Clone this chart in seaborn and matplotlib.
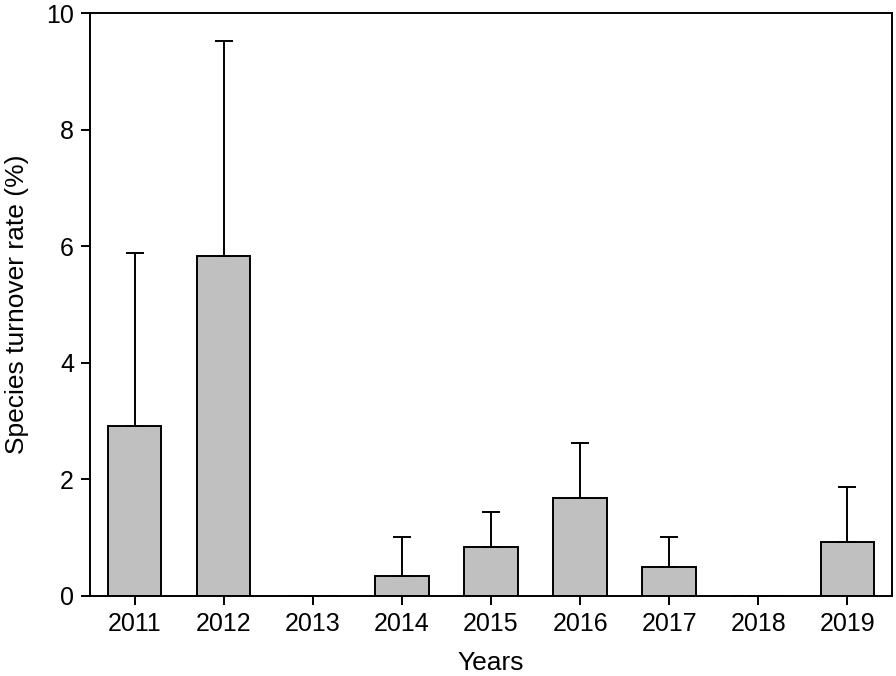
import matplotlib
matplotlib.use("Agg")
import matplotlib.pyplot as plt
import seaborn as sns
import pandas as pd
import numpy as np

# --- Data ---
years = ["2011", "2012", "2013", "2014", "2015", "2016", "2017", "2018", "2019"]
turnover = [2.91, 5.84, 0.0, 0.33, 0.84, 1.67, 0.50, 0.0, 0.93]
turnover_sd = [2.97, 3.68, 0.0, 0.68, 0.59, 0.95, 0.51, 0.0, 0.94]

df = pd.DataFrame({"Year": years, "Turnover": turnover, "SD": turnover_sd})

# --- Style ---
sns.set_style("ticks")
plt.rcParams["font.family"] = ["Liberation Sans", "DejaVu Sans"]
plt.rcParams.update({
    "font.size": 18,
    "text.color": "black",
    "axes.labelcolor": "black",
    "axes.linewidth": 1.4,
    "xtick.major.width": 1.4,
    "ytick.major.width": 1.4,
    "xtick.major.size": 6.5,
    "ytick.major.size": 6.5,
    "xtick.direction": "out",
    "ytick.direction": "out",
})

fig = plt.figure(figsize=(8.96, 6.76), dpi=100)
ax = fig.add_axes([0.1004, 0.1188, 0.8951, 0.8615])

sns.barplot(data=df, x="Year", y="Turnover", color="#c0c0c0", saturation=1,
            edgecolor="black", linewidth=1.4, width=0.6, errorbar=None, ax=ax)

# upper-only error bars
pos = np.arange(len(df))
ax.errorbar(pos, df["Turnover"], yerr=[np.zeros(len(df)), df["SD"]],
            fmt="none", ecolor="black", elinewidth=1.4, capsize=6.5, capthick=1.4)

ax.set_xlim(-0.5, len(df) - 0.5)
ax.set_ylim(0, 10)
ax.set_yticks([0, 2, 4, 6, 8, 10])
for s in ax.spines.values():
    s.set_visible(True)
    s.set_color("black")
ax.tick_params(axis="both", labelsize=18, colors="black", pad=5)
ax.set_xlabel("Years", fontsize=19, labelpad=11)
ax.set_ylabel("Species turnover rate (%)", fontsize=19, labelpad=12)

fig.savefig("out.png", dpi=100)
